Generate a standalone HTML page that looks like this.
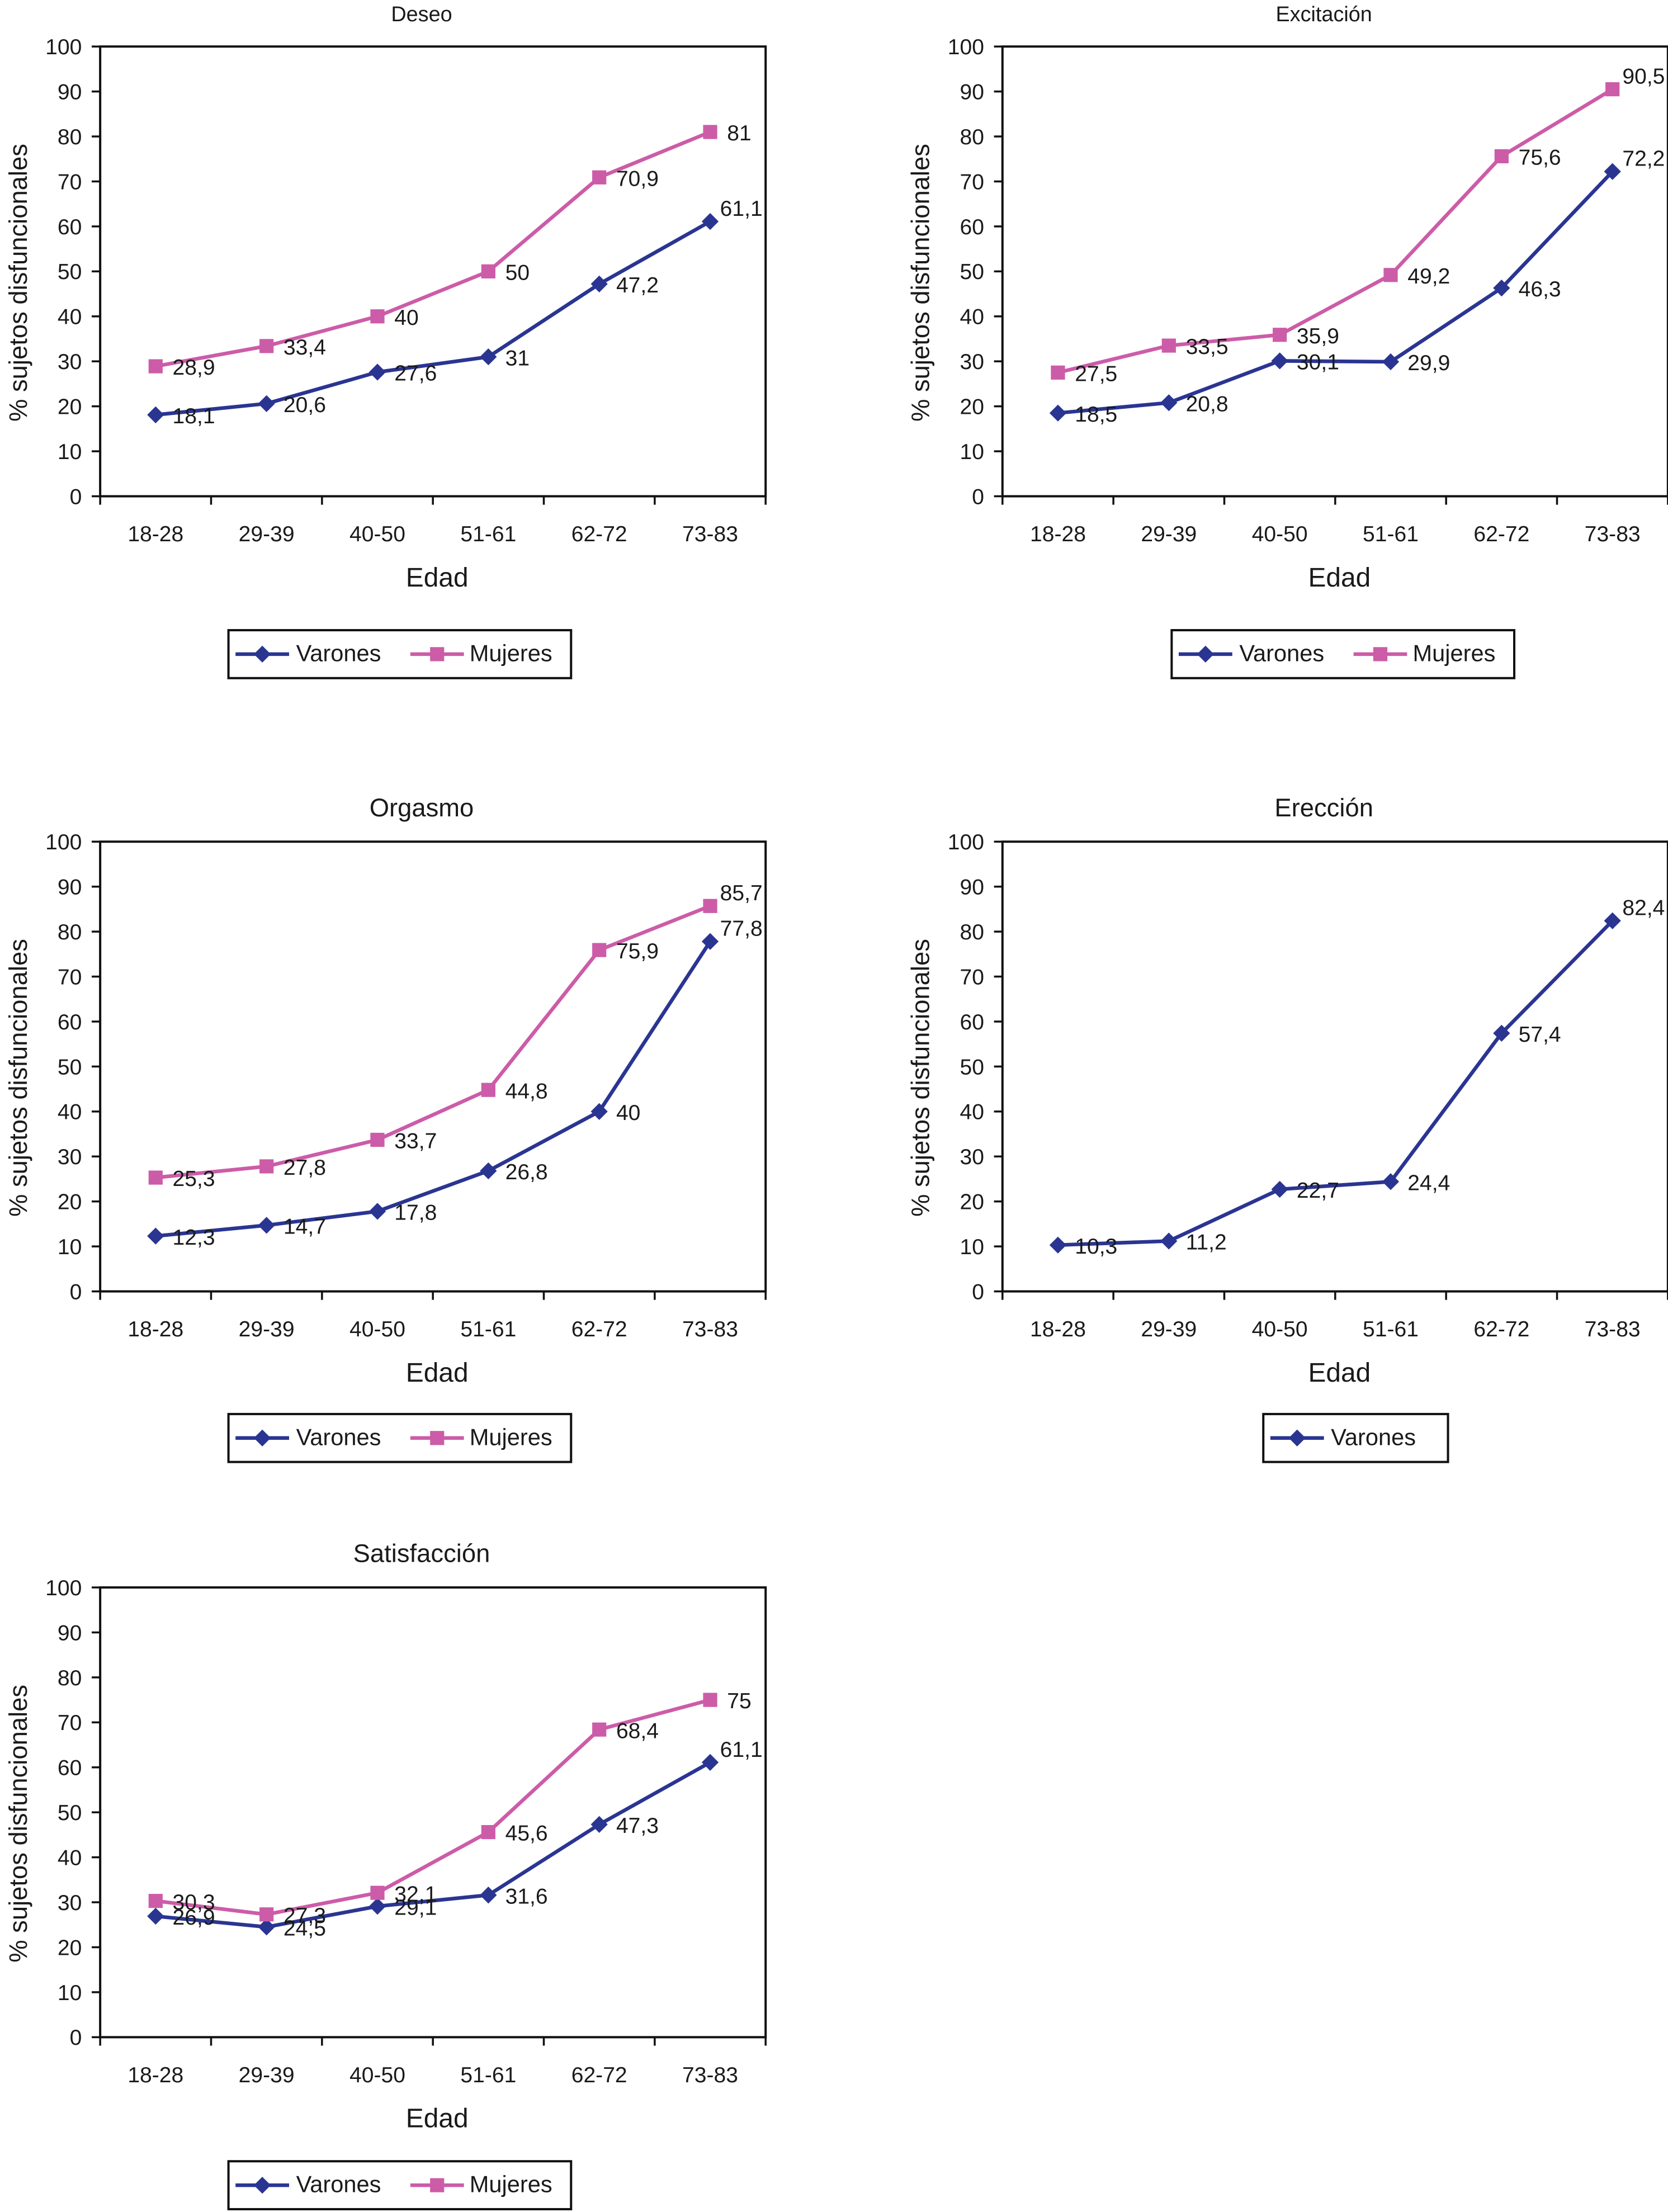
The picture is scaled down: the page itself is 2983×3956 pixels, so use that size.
<!DOCTYPE html>
<html><head><meta charset="utf-8"><style>
html,body{margin:0;padding:0;background:#fff}
svg{display:block}
text{font-family:"Liberation Sans",Arial,sans-serif;fill:#1a1a1a}
</style></head><body>
<svg id="root" width="2983" height="3956" viewBox="0 0 1183 1569" xmlns="http://www.w3.org/2000/svg"></svg>
<script>
const categories = ["18-28","29-39","40-50","51-61","62-72","73-83"];
const yTicks = [0,10,20,30,40,50,60,70,80,90,100];
const deseoVarones = [18.1,20.6,27.6,31,47.2,61.1];
const deseoMujeres = [28.9,33.4,40,50,70.9,81];
const excitVarones = [18.5,20.8,30.1,29.9,46.3,72.2];
const excitMujeres = [27.5,33.5,35.9,49.2,75.6,90.5];
const orgasmoVarones = [12.3,14.7,17.8,26.8,40,77.8];
const orgasmoMujeres = [25.3,27.8,33.7,44.8,75.9,85.7];
const ereccionVarones = [10.3,11.2,22.7,24.4,57.4,82.4];
const satisVarones = [26.9,24.5,29.1,31.6,47.3,61.1];
const satisMujeres = [30.3,27.3,32.1,45.6,68.4,75];

const NS="http://www.w3.org/2000/svg";
const root=document.getElementById('root');
const BLUE="#2a3592", PINK="#cc5ca8";
function mk(tag,attrs,parent){const e=document.createElementNS(NS,tag);for(const k in attrs)e.setAttribute(k,attrs[k]);parent.appendChild(e);return e;}
function fmt(v){return String(v).replace('.',',');}

function chart(id,title,titleSize,L,T,vars,muj,legendX,legendW,legOff,mujLastRight){
  const W=472,H=319,B=T+H;
  const g=mk('g',{},root);
  
  
  const xs=i=>L+(i+0.5)*W/categories.length;
  const ys=v=>B-v/100*H;
  const t=mk('text',{x:L+W/2-8,y:T-18,'text-anchor':'middle','font-size':titleSize},g);t.textContent=title;
  
  const fr=mk('rect',{x:L,y:T,width:W,height:H,fill:'none',stroke:'#111','stroke-width':1.6},g);
  
  yTicks.forEach(v=>{
    mk('line',{x1:L-6,x2:L,y1:ys(v),y2:ys(v),stroke:'#111','stroke-width':1.4},g);
    const tl=mk('text',{x:L-13,y:ys(v)+5.5,'text-anchor':'end','font-size':15.5},g);tl.textContent=v;
    
  });
  for(let i=0;i<=categories.length;i++){const x=L+i*W/categories.length;mk('line',{x1:x,x2:x,y1:B,y2:B+6,stroke:'#111','stroke-width':1.4},g);}
  categories.forEach((c,i)=>{
    const tl=mk('text',{x:xs(i),y:B+32,'text-anchor':'middle','font-size':15.5},g);tl.textContent=c;
    
  });
  const xt=mk('text',{x:L+W/2+3,y:B+64,'text-anchor':'middle','font-size':19},g);xt.textContent='Edad';
  
  const yt=mk('text',{x:0,y:0,'text-anchor':'middle','font-size':18,transform:`translate(${L-52},${T+H/2+8}) rotate(-90)`},g);yt.textContent='% sujetos disfuncionales';
  
  function series(vals,color,shape,name,lastRight){
    const pts=vals.map((v,i)=>xs(i)+','+ys(v)).join(' ');
    const pl=mk('polyline',{points:pts,fill:'none',stroke:color,'stroke-width':2.6},g);
    
    vals.forEach((v,i)=>{
      const x=xs(i),y=ys(v);let m;
      if(shape==='sq') m=mk('rect',{x:x-5,y:y-5,width:10,height:10,fill:color},g);
      else m=mk('polygon',{points:`${x},${y-6} ${x+6},${y} ${x},${y+6} ${x-6},${y}`,fill:color},g);
      
      const last=i===vals.length-1 && !lastRight;
      const lb=mk('text',{x:last?x+7:x+12,y:last?y-4:y+6,'font-size':15.5},g);lb.textContent=fmt(v);
      
    });
  }
  if(vars) series(vars,BLUE,'di','varones',false);
  if(muj) series(muj,PINK,'sq','mujeres',mujLastRight);
  const lg=mk('g',{},g);
  
  const ly=B+legOff;
  mk('rect',{x:legendX,y:ly,width:legendW,height:34,fill:'#fff',stroke:'#111','stroke-width':1.6},lg);
  const cy=ly+17;
  mk('line',{x1:legendX+5,x2:legendX+43,y1:cy,y2:cy,stroke:BLUE,'stroke-width':2.6},lg);
  mk('polygon',{points:`${legendX+24},${cy-6} ${legendX+30},${cy} ${legendX+24},${cy+6} ${legendX+18},${cy}`,fill:BLUE},lg);
  const t1=mk('text',{x:legendX+48,y:cy+5,'font-size':16.5},lg);t1.textContent='Varones';
  
  if(muj){
    const x0=legendX+129;
    mk('line',{x1:x0,x2:x0+38,y1:cy,y2:cy,stroke:PINK,'stroke-width':2.6},lg);
    mk('rect',{x:x0+14,y:cy-5,width:10,height:10,fill:PINK},lg);
    const t2=mk('text',{x:x0+42,y:cy+5,'font-size':16.5},lg);t2.textContent='Mujeres';
    
  }
}
chart('deseo','Deseo',15,71,33,deseoVarones,deseoMujeres,162,243,95,true);
chart('excitacion','Excitación',15,711,33,excitVarones,excitMujeres,831,243,95,false);
chart('orgasmo','Orgasmo',18,71,597,orgasmoVarones,orgasmoMujeres,162,243,87,false);
chart('ereccion','Erección',18,711,597,ereccionVarones,null,896,131,87,false);
chart('satisfaccion','Satisfacción',18,71,1126,satisVarones,satisMujeres,162,243,88,true);
</script>
</body></html>
